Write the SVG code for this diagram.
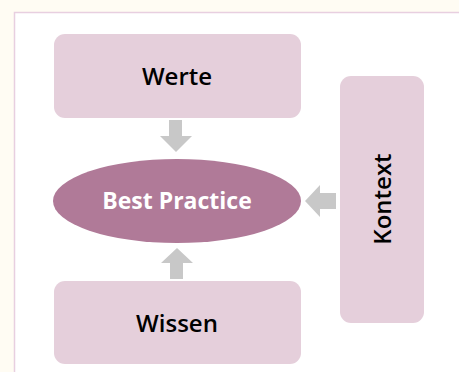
<svg xmlns="http://www.w3.org/2000/svg" width="459" height="372" viewBox="0 0 459 372">
<style>
.box{fill:#e5cfdb}
.arr{fill:#c8c8c8}
.lbl{font-family:"Open Sans","Liberation Sans",sans-serif;font-size:24px;font-weight:600;fill:#000;text-anchor:middle}
.bp{font-family:"Open Sans","Liberation Sans",sans-serif;font-size:23px;font-weight:bold;fill:#fff;text-anchor:middle}
</style>
<rect x="0" y="0" width="459" height="372" fill="#fffcf3"/>
<rect x="14.5" y="12.5" width="460" height="380" fill="#fff" stroke="#e8cfe0" stroke-width="1.5"/>
<g id="connectors">
<polygon class="arr" points="169,120 182,120 182,136 192,136 176,152 160,136 169,136"/>
<polygon class="arr" points="170,279 183,279 183,263 193,263 177,248 161,263 170,263"/>
<polygon class="arr" points="336,193 320,193 320,185 305,201 320,217 320,209 336,209"/>
</g>
<g id="werte">
<rect class="box" x="54" y="34" width="247" height="84" rx="11"/>
<text class="lbl" x="177" y="85">Werte</text>
</g>
<g id="best-practice">
<ellipse cx="177" cy="201" rx="124" ry="42" fill="#b07a98"/>
<text class="bp" x="177" y="209">Best Practice</text>
</g>
<g id="wissen">
<rect class="box" x="54" y="281" width="247" height="83" rx="11"/>
<text class="lbl" x="177" y="332">Wissen</text>
</g>
<g id="kontext">
<rect class="box" x="340" y="76" width="84" height="247" rx="11"/>
<text class="lbl" transform="translate(391,199) rotate(-90)" x="0" y="0">Kontext</text>
</g>
</svg>
